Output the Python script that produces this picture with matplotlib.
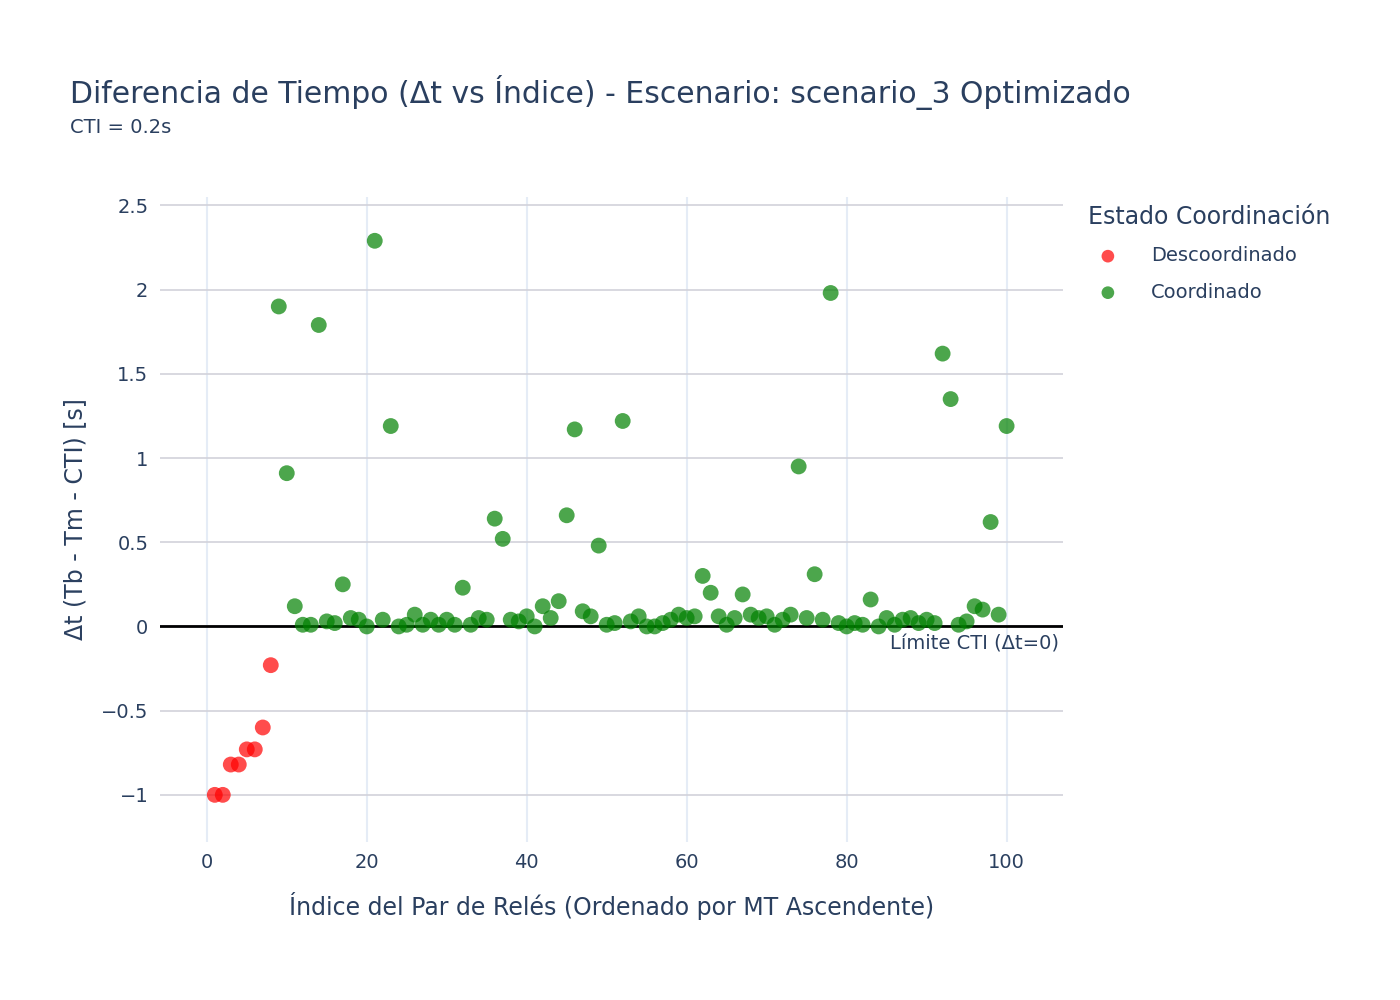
import matplotlib
matplotlib.use("Agg")
import matplotlib.pyplot as plt
import numpy as np

plt.rcParams['font.family'] = ['DejaVu Sans']

# Data: index of relay pair and delta t
indices = np.arange(1, 101)
delta_t = [-1.0, -1.0, -0.82, -0.82, -0.73, -0.73, -0.60, -0.23,
           1.90, 0.91, 0.12, 0.01, 0.01, 1.79, 0.03, 0.02, 0.25, 0.05, 0.04, 0.0,
           2.29, 0.04, 1.19, 0.0, 0.01, 0.07, 0.01, 0.04, 0.01, 0.04,
           0.01, 0.23, 0.01, 0.05, 0.04, 0.64, 0.52, 0.04, 0.03, 0.06,
           0.0, 0.12, 0.05, 0.15, 0.66, 1.17, 0.09, 0.06, 0.48, 0.01,
           0.02, 1.22, 0.03, 0.06, 0.0, 0.0, 0.02, 0.04, 0.07, 0.05,
           0.06, 0.30, 0.20, 0.06, 0.01, 0.05, 0.19, 0.07, 0.05, 0.06,
           0.01, 0.04, 0.07, 0.95, 0.05, 0.31, 0.04, 1.98, 0.02, 0.0,
           0.02, 0.01, 0.16, 0.0, 0.05, 0.01, 0.04, 0.05, 0.02, 0.04,
           0.02, 1.62, 1.35, 0.01, 0.03, 0.12, 0.10, 0.62, 0.07, 1.19]
delta_t = np.array(delta_t)

TEXT = '#2a3f5f'

fig = plt.figure(figsize=(14, 10), dpi=100)
ax = fig.add_axes([0.114, 0.158, 0.645, 0.645])

bad = delta_t < 0
ax.scatter(indices[bad], delta_t[bad], s=130, color='red', alpha=0.7,
           edgecolors='none', label='Descoordinado', zorder=3)
ax.scatter(indices[~bad], delta_t[~bad], s=130, color='green', alpha=0.7,
           edgecolors='none', label='Coordinado', zorder=3)

ax.axhline(0, color='black', lw=2, zorder=2)
ax.text(106.5, -0.05, 'Límite CTI (Δt=0)', ha='right', va='top',
        fontsize=14, color=TEXT)

ax.set_xlim(-5.9, 107)
ax.set_ylim(-1.28, 2.55)
ax.set_xticks([0, 20, 40, 60, 80, 100])
ax.set_yticks([-1, -0.5, 0, 0.5, 1, 1.5, 2, 2.5])
ax.set_yticklabels(['\u22121', '\u22120.5', '0', '0.5', '1', '1.5', '2', '2.5'])
ax.grid(True, axis='x', color='#E5ECF6', lw=1.5)
ax.grid(True, axis='y', color='#d2d2da', lw=1.2)
ax.set_axisbelow(True)
for s in ax.spines.values():
    s.set_visible(False)
ax.tick_params(length=0, labelsize=14, colors=TEXT, pad=8)

ax.set_xlabel('Índice del Par de Relés (Ordenado por MT Ascendente)',
              fontsize=17, color=TEXT, labelpad=14)
ax.set_ylabel('Δt (Tb - Tm - CTI) [s]', fontsize=17, color=TEXT, labelpad=10)

fig.text(0.05, 0.897, 'Diferencia de Tiempo (Δt vs Índice) - Escenario: scenario_3 Optimizado',
         fontsize=21.5, color=TEXT)
fig.text(0.05, 0.867, 'CTI = 0.2s', fontsize=14, color=TEXT)

leg = ax.legend(loc='upper left', bbox_to_anchor=(1.02, 1.0), frameon=False,
                fontsize=14, title='Estado Coordinación', title_fontsize=17,
                labelcolor=TEXT, markerscale=0.8, handletextpad=1.2,
                labelspacing=0.9, borderaxespad=0)
leg.get_title().set_color(TEXT)
leg._legend_box.align = 'left'

fig.savefig('out.png')
